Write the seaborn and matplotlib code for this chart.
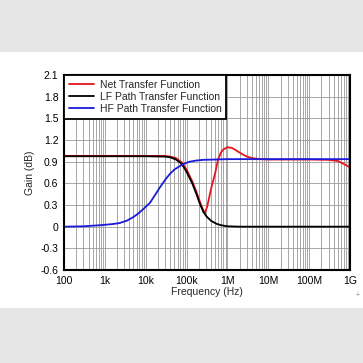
import numpy as np
import pandas as pd
import matplotlib
matplotlib.use("Agg")
import matplotlib.pyplot as plt
import seaborn as sns
from matplotlib.patches import Rectangle

# frequency (Hz) / gain (dB)
net_freq = [1e2, 1e3, 1e4, 3e4, 4e4, 5.5e4, 7.6e4, 1e5, 1.4e5, 1.8e5, 2.2e5, 2.6e5,
            2.82e5, 3.2e5, 4e5, 5e5, 5.9e5, 7e5, 8e5, 1e6, 1.3e6, 1.7e6, 2.2e6,
            3e6, 4e6, 6e6, 1e7, 1e8, 3e8, 5e8, 7e8, 1e9]
net_gain = [0.98, 0.98, 0.98, 0.98, 0.97, 0.95, 0.89, 0.79, 0.62, 0.46, 0.32, 0.22,
            0.19, 0.28, 0.53, 0.74, 0.93, 1.03, 1.07, 1.10, 1.09, 1.05, 1.01,
            0.97, 0.95, 0.935, 0.93, 0.93, 0.925, 0.91, 0.87, 0.82]

lf_freq = [1e2, 1e3, 1e4, 3e4, 4e4, 5.5e4, 7.6e4, 1e5, 1.4e5, 1.8e5, 2.1e5, 2.6e5,
           3.1e5, 4e5, 5.4e5, 7e5, 1e6, 2e6, 1e9]
lf_gain = [0.975, 0.975, 0.975, 0.97, 0.96, 0.93, 0.87, 0.76, 0.59, 0.43, 0.32, 0.20,
           0.14, 0.08, 0.04, 0.02, 0.005, 0.0, 0.0]

hf_freq = [1e2, 3e2, 7.5e2, 1.5e3, 2.3e3, 3.5e3, 4.9e3, 6.5e3, 8.6e3, 1.27e4, 1.7e4,
           2.2e4, 3e4, 3.9e4, 5e4, 6.9e4, 9e4, 1.2e5, 1.7e5, 2.5e5, 5e5, 1e6, 1e9]
hf_gain = [0.0, 0.005, 0.02, 0.035, 0.05, 0.085, 0.13, 0.18, 0.24, 0.33, 0.44,
           0.54, 0.65, 0.73, 0.79, 0.84, 0.875, 0.90, 0.915, 0.925, 0.93, 0.935, 0.935]

x_ticks = [1e2, 1e3, 1e4, 1e5, 1e6, 1e7, 1e8, 1e9]
x_labels = ["100", "1k", "10k", "100k", "1M", "10M", "100M", "1G"]
y_ticks = [-0.6, -0.3, 0, 0.3, 0.6, 0.9, 1.2, 1.5, 1.8, 2.1]
y_labels = ["-0.6", "-0.3", "0", "0.3", "0.6", "0.9", "1.2", "1.5", "1.8", "2.1"]

sns.set_theme(style="white")
plt.rcParams["font.family"] = ["Liberation Sans", "DejaVu Sans"]

fig = plt.figure(figsize=(3.63, 3.63), dpi=100)
fig.patch.set_facecolor("white")
# grey bands above and below the chart
fig.patches.append(Rectangle((0, 1 - 52 / 363), 1, 52 / 363, transform=fig.transFigure,
                             facecolor="#e6e6e6", edgecolor="none", zorder=0))
fig.patches.append(Rectangle((0, 0), 1, 55 / 363, transform=fig.transFigure,
                             facecolor="#e6e6e6", edgecolor="none", zorder=0))

ax = fig.add_axes([64 / 363, 1 - 270 / 363, 286 / 363, 195 / 363])

sns.lineplot(x=net_freq, y=net_gain, ax=ax, color="#e8141c", lw=1.3,
             label="Net Transfer Function")
sns.lineplot(x=lf_freq, y=lf_gain, ax=ax, color="black", lw=1.3,
             label="LF Path Transfer Function")
sns.lineplot(x=hf_freq, y=hf_gain, ax=ax, color="#1a1adc", lw=1.3,
             label="HF Path Transfer Function")

ax.set_xscale("log")
ax.set_xlim(1e2, 1e9)
ax.set_ylim(-0.6, 2.1)
ax.set_xticks(x_ticks)
ax.set_xticklabels(x_labels)
ax.set_yticks(y_ticks)
ax.set_yticklabels(y_labels)
ax.tick_params(axis="both", labelsize=7.5, length=2, pad=2, colors="black")
ax.tick_params(axis="x", which="minor", length=0)

ax.grid(True, which="major", axis="both", color="#999999", lw=0.6)
ax.grid(True, which="minor", axis="x", color="#999999", lw=0.6)
ax.set_axisbelow(True)

for s in ax.spines.values():
    s.set_color("black")
    s.set_linewidth(1.5)

ax.set_xlabel("Frequency (Hz)", fontsize=7.5, labelpad=1)
ax.set_ylabel("Gain (dB)", fontsize=7.5, labelpad=4)

leg = ax.legend(loc="upper left", fontsize=7.5, frameon=True, fancybox=False,
                framealpha=1, borderaxespad=0, handlelength=2.4,
                labelspacing=0.2, borderpad=0.45, handletextpad=0.6)
leg.get_frame().set_edgecolor("black")
leg.get_frame().set_linewidth(1.3)

fig.text(358 / 363, 1 - 295 / 363, "+", fontsize=5, color="#888888", ha="center", va="center")

plt.savefig("out.png", dpi=100)
plt.close()
